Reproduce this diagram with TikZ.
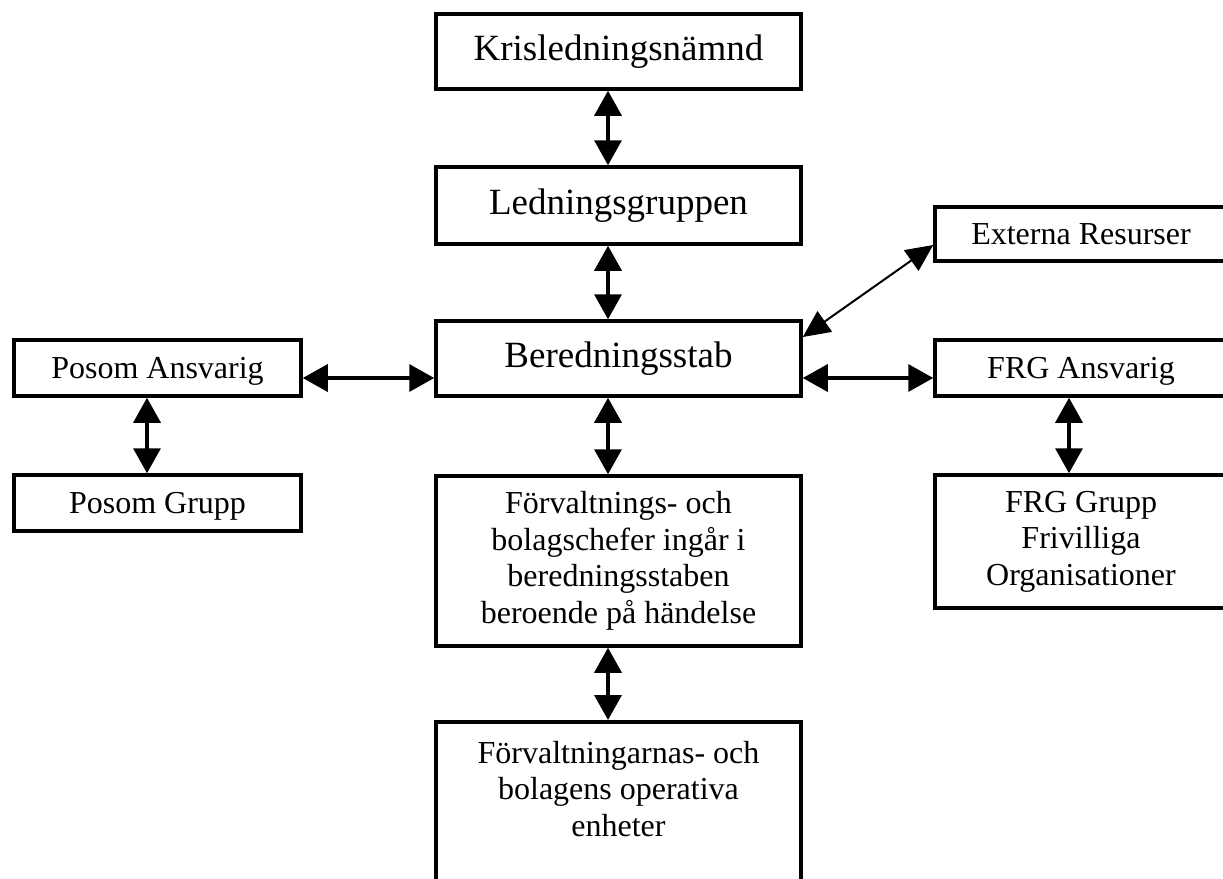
\documentclass[tikz,border=0pt]{standalone}
\usepackage{fontspec}
\setmainfont{Liberation Serif}
\usetikzlibrary{arrows.meta,calc}
\tikzset{
  box/.style={draw, line width=3.5pt, rectangle, inner sep=0pt, align=center},
  bigtxt/.style={font=\fontsize{37}{42}\selectfont},
  smalltxt/.style={font=\fontsize{32}{36.5}\selectfont},
  oneline/.style={text depth=0pt},
  link/.style={line width=3.5pt, {Triangle[length=25pt,width=27pt]}-{Triangle[length=25pt,width=27pt]}},
  thinlink/.style={line width=2pt, {Triangle[length=27pt,width=25pt]}-{Triangle[length=27pt,width=25pt]}}
}
\begin{document}
\begin{tikzpicture}[x=1pt,y=-1pt]
\clip (0,0) rectangle (1223,878);
\fill[white] (0,0) rectangle (1223,878);
\node[box,bigtxt,minimum width=365,minimum height=75] (kris) at (618.5,51.5) {Krisledningsnämnd};
\node[box,bigtxt,minimum width=365,minimum height=77] (led) at (618.5,205.5) {Ledningsgruppen};
\node[box,bigtxt,minimum width=365,minimum height=75] (bered) at (618.5,358.5) {Beredningsstab};
\node[box,smalltxt,minimum width=365,minimum height=170] (chef) at (618.5,561) {Förvaltnings- och\\ bolagschefer ingår i\\ beredningsstaben\\ beroende på händelse};
\node[box,minimum width=365,minimum height=190,anchor=north] (opr) at (618.5,720) {};
\node[smalltxt,align=center,anchor=north,inner sep=0pt] (oprtxt) at (618.5,741) {Förvaltningarnas- och\\ bolagens operativa\\ enheter};
\node[box,smalltxt,oneline,minimum width=287,minimum height=56] (posa) at (157.5,368) {Posom Ansvarig};
\node[box,smalltxt,oneline,minimum width=287,minimum height=56] (posg) at (157.5,503) {Posom Grupp};
\node[box,smalltxt,oneline,minimum width=292,minimum height=54] (ext) at (1081,234) {Externa Resurser};
\node[box,smalltxt,oneline,minimum width=292,minimum height=56] (frga) at (1081,368) {FRG Ansvarig};
\node[box,smalltxt,minimum width=292,minimum height=133] (frgg) at (1081,541.5) {FRG Grupp\\ Frivilliga\\ Organisationer};
\draw[link] ([xshift=-10.5pt]kris.south) -- ([xshift=-10.5pt]led.north);
\draw[link] ([xshift=-10.5pt]led.south) -- ([xshift=-10.5pt]bered.north);
\draw[link] ([xshift=-10.5pt]bered.south) -- ([xshift=-10.5pt]chef.north);
\draw[link] ([xshift=-10.5pt]chef.south) -- ([xshift=-10.5pt]opr.north);
\draw[link] ([yshift=-10pt]posa.east) -- ([yshift=-10pt]posa.east -| bered.west);
\draw[link] ([yshift=-10pt]frga.west -| bered.east) -- ([yshift=-10pt]frga.west);
\draw[link] ([xshift=-10.5pt]posa.south) -- ([xshift=-10.5pt]posg.north);
\draw[link] ([xshift=-12pt]frga.south) -- ([xshift=-12pt]frgg.north);
\draw[thinlink] ([yshift=21.5pt]bered.east) -- ([yshift=-11pt]ext.west);
\end{tikzpicture}
\end{document}
